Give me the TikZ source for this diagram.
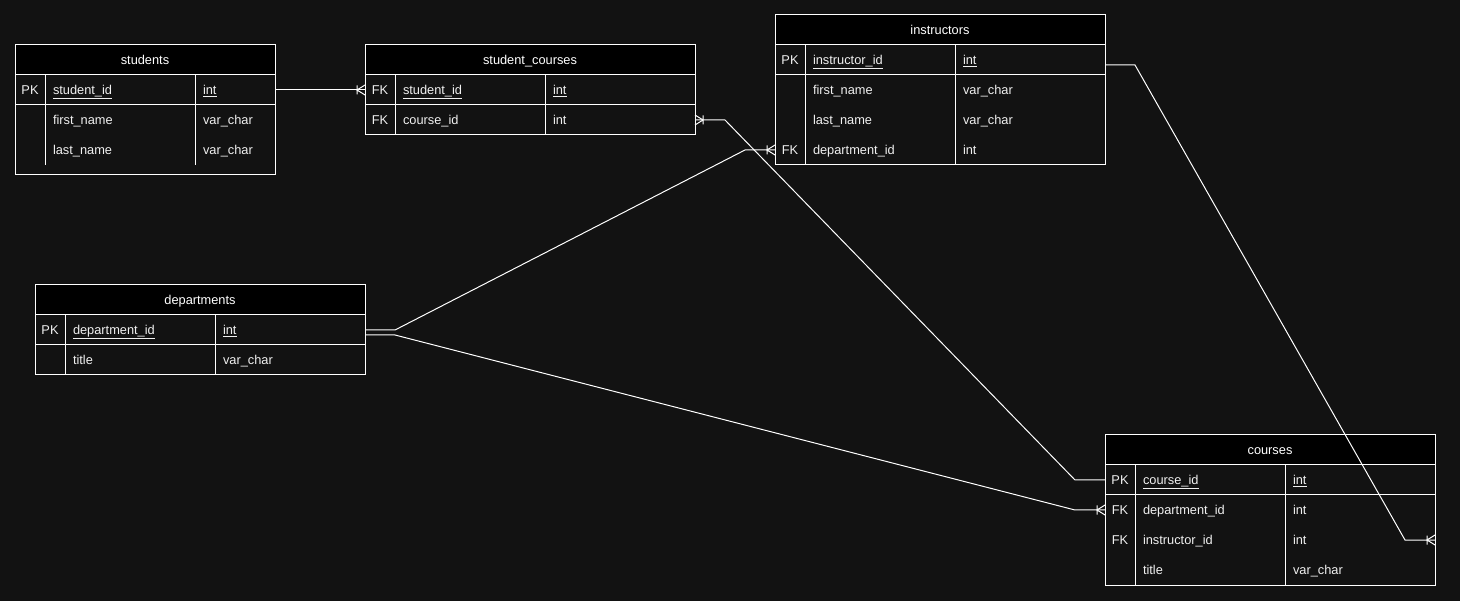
\documentclass[tikz,border=0pt]{standalone}
\usepackage{fontspec}
\setmainfont{Liberation Sans}
\definecolor{bgDark}{HTML}{121212}
\definecolor{textLight}{HTML}{F0F0F0}

\begin{document}
\begin{tikzpicture}
[x=1pt,y=-1pt,
  every node/.style={outer sep=0pt,inner sep=0pt,font=\fontsize{12.8}{15}\selectfont},
  boxDecorate/.style={draw=white,line width=1pt},
  lineDecorate/.style={-,draw=white,line width=1pt},
  headDecorate/.style={draw=white,fill=black,text=white,line width=1pt,anchor=north west,
    minimum height=30pt,text height=9pt,text depth=0pt},
  rowDecorate/.style={anchor=north west,minimum height=30pt},
  keyDecorate/.style={text=textLight,text height=9pt,text depth=0pt},
  textDecorate/.style={text=textLight,anchor=west,text height=9pt,text depth=0pt},
  manyMark/.pic={\draw[lineDecorate] (8,-4.5) -- (8,4.5) (0,-5) -- (8,0) -- (0,5);}]
\path[use as bounding box,fill=bgDark] (0,0) rectangle (1460,601);
%% tables
\foreach \tname/\tlabel/\x/\y/\w/\b/\d in {
  students/students/15/45/260/130/120,
  sc/student\_courses/365/45/330/90/90,
  instructors/instructors/775/15/330/150/150,
  departments/departments/35/285/330/90/90,
  courses/courses/1105/435/330/150/150}
{
  \draw[boxDecorate] (\x,\y+30) rectangle (\x+\w,\y+\b);
  \draw[boxDecorate] (\x,\y+60) -- (\x+\w,\y+60)
    (\x+30,\y+30) -- (\x+30,\y+\d) (\x+180,\y+30) -- (\x+180,\y+\d);
  \node[headDecorate,minimum width=\w pt] (\tname) at (\x,\y) {\tlabel};
}
%% rows
\foreach \rname/\x/\y/\w/\key/\field/\kind in {
  students-id/15/75/260/PK/\underline{student\_id}/\underline{int},
  students-first/15/105/260//first\_name/var\_char,
  students-last/15/135/260//last\_name/var\_char,
  sc-student/365/75/330/FK/\underline{student\_id}/\underline{int},
  sc-course/365/105/330/FK/course\_id/int,
  instructors-id/775/45/330/PK/\underline{instructor\_id}/\underline{int},
  instructors-first/775/75/330//first\_name/var\_char,
  instructors-last/775/105/330//last\_name/var\_char,
  instructors-dept/775/135/330/FK/department\_id/int,
  departments-id/35/315/330/PK/\underline{department\_id}/\underline{int},
  departments-title/35/345/330//title/var\_char,
  courses-id/1105/465/330/PK/\underline{course\_id}/\underline{int},
  courses-dept/1105/495/330/FK/department\_id/int,
  courses-instructor/1105/525/330/FK/instructor\_id/int,
  courses-title/1105/555/330//title/var\_char}
{
  \node[rowDecorate,minimum width=\w pt] (\rname) at (\x,\y) {};
  \node[keyDecorate] at (\x+15,\y+15) {\key};
  \node[textDecorate] at (\x+38,\y+15) {\field};
  \node[textDecorate] at (\x+188,\y+15) {\kind};
}
%% relations
\draw[lineDecorate] (students-id.east) -- (sc-student.west);
\draw[lineDecorate] (sc-course.east) -- ++(30,0)
  -- ([xshift=-30pt]courses-id.west) -- (courses-id.west);
\draw[lineDecorate] (departments-id.east) -- ++(30,0)
  -- ([xshift=-30pt]instructors-dept.west) -- (instructors-dept.west);
\draw[lineDecorate] ([yshift=-5pt]departments-id.east) -- ++(30,0)
  -- ([xshift=-30pt]courses-dept.west) -- (courses-dept.west);
\draw[lineDecorate] ([yshift=-5pt]instructors-id.east) -- ++(30,0)
  -- ([xshift=-30pt]courses-instructor.east) -- (courses-instructor.east);
%% many ends
\foreach \endname/\dir in {sc-student.west/-1, sc-course.east/1,
  instructors-dept.west/-1, courses-dept.west/-1, courses-instructor.east/-1}
{
  \path (\endname) pic[xscale=\dir] {manyMark};
}
\end{tikzpicture}
\end{document}
